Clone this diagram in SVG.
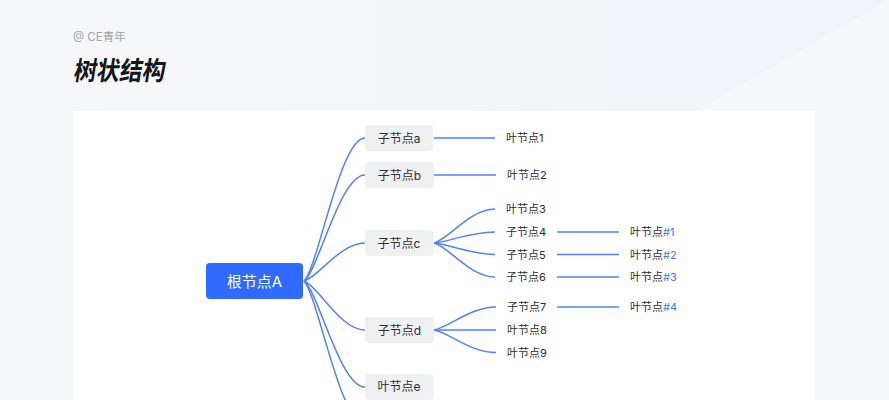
<svg xmlns="http://www.w3.org/2000/svg" width="889" height="400" viewBox="0 0 889 400">
<style>
text{font-family:"Inter","Noto Sans CJK SC",sans-serif}
.n{fill:#eff0f2}
.t{font-size:12px;fill:#2b2d33;text-anchor:middle;dominant-baseline:central}
.l{font-size:11px;fill:#2b2d33;dominant-baseline:central}
.h{fill:#3b74f0}
#conn path{fill:none;stroke:#5580f2;stroke-width:1.5}
</style>
<defs><linearGradient id="bg" x1="0" y1="0" x2="1" y2="0"><stop offset="0" stop-color="#f6f7f9"/><stop offset="1" stop-color="#f0f3f8"/></linearGradient></defs>
<rect width="889" height="400" fill="url(#bg)"/>
<polygon points="889,0 889,400 815,400 815,111 695,111" fill="#f6f7fa"/>
<rect x="73.300" y="111" width="741.700" height="289" fill="#fff"/>
<text x="73" y="40.500" font-size="11.500" fill="#a0a3a8">@ CE青年</text>
<text transform="translate(73 79.500) skewX(-9) scale(.88 1)" font-size="26" font-weight="700" fill="#15161a">树状结构</text>
<g id="conn">
<path d="M304 281C318 268 340 138 365 138"/>
<path d="M304 281C318 271.500 340 175 365 175"/>
<path d="M304 281C318 277.600 340 243 365 243"/>
<path d="M304 281C318 285.400 340 330 365 330"/>
<path d="M304 281C318 290.500 340 387 365 387"/>
<path d="M304 281C318 296 340 424 365 424"/>
<path d="M434 138H495"/>
<path d="M434 175H496"/>
<path d="M434 243C448 240 470 209 495 209"/>
<path d="M434 243C448 242 470 232 495 232"/>
<path d="M434 243C448 244 470 254.500 495 254.500"/>
<path d="M434 243C448 246 470 277 495 277"/>
<path d="M434 330C448 328 470 307 496 307"/>
<path d="M434 330H496"/>
<path d="M434 330C448 332 470 352.500 496 352.500"/>
<path d="M557 232H619"/>
<path d="M557 254.500H619"/>
<path d="M557 277H619"/>
<path d="M557 307H619"/>
</g>
<g id="root"><rect x="206" y="263" width="97" height="36" rx="4" fill="#2f6bff"/><text x="254.500" y="281" font-size="15" fill="#fff" text-anchor="middle" dominant-baseline="central">根节点A</text></g>
<g id="a"><rect class="n" x="365" y="125" width="68" height="26" rx="4"/><text class="t" x="399" y="138">子节点a</text></g>
<g id="b"><rect class="n" x="365" y="162" width="69" height="26" rx="4"/><text class="t" x="399.500" y="175">子节点b</text></g>
<g id="c"><rect class="n" x="365" y="230" width="68.500" height="26" rx="4"/><text class="t" x="399" y="243">子节点c</text></g>
<g id="d"><rect class="n" x="365" y="317" width="69" height="26" rx="4"/><text class="t" x="399.500" y="330">子节点d</text></g>
<g id="e"><rect class="n" x="365" y="374" width="68.500" height="26" rx="4"/><text class="t" x="399" y="386.500">叶节点e</text></g>
<g id="l1"><text class="l" x="506" y="138">叶节点1</text></g>
<g id="l2"><text class="l" x="507" y="175">叶节点2</text></g>
<g id="l3"><text class="l" x="506" y="209">叶节点3</text></g>
<g id="l4"><text class="l" x="506" y="232">子节点4</text></g>
<g id="l5"><text class="l" x="506" y="254.500">子节点5</text></g>
<g id="l6"><text class="l" x="506" y="277">子节点6</text></g>
<g id="l7"><text class="l" x="507" y="307">子节点7</text></g>
<g id="l8"><text class="l" x="507" y="330">叶节点8</text></g>
<g id="l9"><text class="l" x="507" y="352.500">叶节点9</text></g>
<g id="h1"><text class="l" x="630" y="232">叶节点<tspan class="h">#1</tspan></text></g>
<g id="h2"><text class="l" x="630" y="254.500">叶节点<tspan class="h">#2</tspan></text></g>
<g id="h3"><text class="l" x="630" y="277">叶节点<tspan class="h">#3</tspan></text></g>
<g id="h4"><text class="l" x="630" y="307">叶节点<tspan class="h">#4</tspan></text></g>
</svg>
